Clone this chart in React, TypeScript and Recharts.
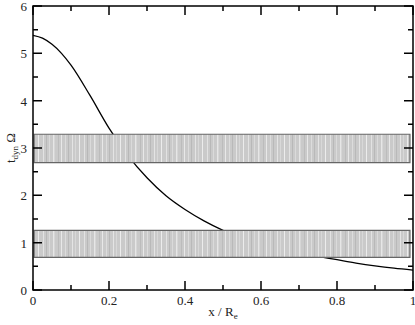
import React from "react";
import { ComposedChart, Line, XAxis, YAxis, ReferenceArea } from "recharts";

const xPos = [0, 0.025, 0.05, 0.075, 0.1, 0.15, 0.2, 0.25, 0.3, 0.35, 0.4, 0.45, 0.5, 0.55, 0.6, 0.65, 0.7, 0.75, 0.8, 0.85, 0.9, 0.95, 1];
const tDyn = [5.38, 5.32, 5.19, 5.0, 4.75, 4.11, 3.42, 2.84, 2.37, 1.99, 1.7, 1.46, 1.26, 1.1, 0.98, 0.87, 0.78, 0.71, 0.64, 0.57, 0.51, 0.46, 0.42];

const xMajor = [0, 0.2, 0.4, 0.6, 0.8, 1];
const xTicks = [0, 0.1, 0.2, 0.3, 0.4, 0.5, 0.6, 0.7, 0.8, 0.9, 1];
const yMajor = [0, 1, 2, 3, 4, 5, 6];
const yTicks = [0, 0.5, 1, 1.5, 2, 2.5, 3, 3.5, 4, 4.5, 5, 5.5, 6];

// shaded bands [x1, x2, y1, y2]
const bands = [
  [0.003, 0.992, 2.69, 3.29],
  [0.003, 0.992, 0.69, 1.26],
];

const data = xPos.map((x, i) => ({ x, t: tDyn[i] }));

const W = 415;
const H = 325;
const M = { top: 6, right: 2, left: 0, bottom: 0 };
const Y_W = 33;
const X_H = 35;
const PLOT_W = W - Y_W - M.right;
const PLOT_H = H - M.top - X_H;

const AX = "#000";
const FONT = "'Liberation Serif', 'DejaVu Serif', serif";
const txt = { fontFamily: FONT, fontSize: 13 };

// bottom tick + mirrored tick on the top edge
function BottomTick({ x, y, payload }: any) {
  const major = xMajor.includes(payload.value);
  const len = major ? 9 : 5;
  return (
    <g>
      <path d={`M${x},${y}V${y - len}M${x},${y - PLOT_H}V${y - PLOT_H + len}`} stroke={AX} strokeWidth={1.5} fill="none" />
      {major && (
        <text x={x} y={y + 15} textAnchor="middle" fill="#222" style={txt}>
          {String(payload.value)}
        </text>
      )}
    </g>
  );
}

// left tick + mirrored tick on the right edge
function LeftTick({ x, y, payload }: any) {
  const major = yMajor.includes(payload.value);
  const len = major ? 9 : 5;
  return (
    <g>
      <path d={`M${x},${y}H${x + len}M${x + PLOT_W},${y}H${x + PLOT_W - len}`} stroke={AX} strokeWidth={1.5} fill="none" />
      {major && (
        <text x={x - 6} y={y + 5} textAnchor="end" fill="#222" style={txt}>
          {String(payload.value)}
        </text>
      )}
    </g>
  );
}

function XTitle({ viewBox }: any) {
  const cx = viewBox.x + viewBox.width / 2;
  return (
    <text x={cx} y={viewBox.y + 26} textAnchor="middle" fill="#222" style={txt}>
      x / R
      <tspan dy={3} fontSize={9}>e</tspan>
    </text>
  );
}

function YTitle({ viewBox }: any) {
  const cx = viewBox.x + 15;
  const cy = viewBox.y + viewBox.height / 2;
  return (
    <text x={cx} y={cy} textAnchor="middle" fill="#222" style={txt} transform={`rotate(-90, ${cx}, ${cy})`}>
      t
      <tspan dy={3} fontSize={9}>dyn</tspan>
      <tspan dy={-3}> Ω</tspan>
    </text>
  );
}

// vertical stripe offsets in the band texture
const stripes = [
  [2, "#e2e2e2"], [5, "#b8b8b8"], [8, "#dadada"], [12, "#e6e6e6"], [13, "#d6d6d6"], [17, "#bcbcbc"],
  [20, "#e8e8e8"], [24, "#dcdcdc"], [27, "#b9b9b9"], [31, "#e4e4e4"], [34, "#d8d8d8"], [38, "#ececec"],
];

export default function App() {
  return (
    <div style={{ position: "absolute", left: 0, top: 0, width: W, height: H, background: "#fff" }}>
      <svg width={0} height={0} style={{ position: "absolute" }}>
        <defs>
          <pattern id="bandFill" patternUnits="userSpaceOnUse" width={41} height={4}>
            <rect x={0} y={0} width={41} height={4} fill="#cacaca" />
            {stripes.map(([sx, c], i) => (
              <rect key={i} x={sx as number} y={0} width={1} height={4} fill={c as string} />
            ))}
          </pattern>
        </defs>
      </svg>
      <ComposedChart width={W} height={H} data={data} margin={M}>
        <XAxis
          dataKey="x"
          type="number"
          domain={[0, 1]}
          ticks={xTicks}
          interval={0}
          height={X_H}
          tickSize={0}
          tickMargin={0}
          tickLine={false}
          axisLine={false}
          tick={<BottomTick />}
          label={<XTitle />}
        />
        <YAxis
          type="number"
          domain={[0, 6]}
          ticks={yTicks}
          interval={0}
          width={Y_W}
          tickSize={0}
          tickMargin={0}
          tickLine={false}
          axisLine={false}
          tick={<LeftTick />}
          label={<YTitle />}
        />
        <ReferenceArea x1={0} x2={1} y1={0} y2={6} fill="none" stroke={AX} strokeWidth={1.5} ifOverflow="visible" zIndex={600} />
        <Line
          type="monotone"
          dataKey="t"
          stroke="#000"
          strokeWidth={1.3}
          dot={false}
          isAnimationActive={false}
        />
        {bands.map((b, i) => (
          <ReferenceArea
            key={i}
            x1={b[0]}
            x2={b[1]}
            y1={b[2]}
            y2={b[3]}
            fill="url(#bandFill)"
            fillOpacity={1}
            stroke="#666"
            strokeWidth={1.2}
            zIndex={450}
          />
        ))}
      </ComposedChart>
    </div>
  );
}
